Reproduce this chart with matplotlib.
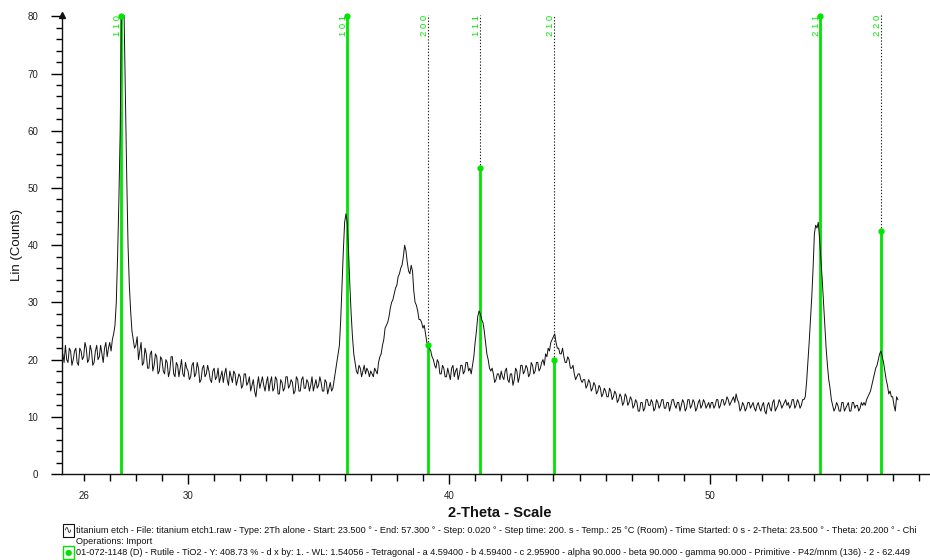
import numpy as np
import matplotlib
matplotlib.use("Agg")
import matplotlib.pyplot as plt

plt.rcParams['font.family'] = ['Liberation Sans', 'DejaVu Sans']

# ---------------- data ----------------
scan_step = 0.05       # step between listed points (2-theta)

# (segment start in 2-theta, counts at scan_step spacing)
segments = [
    (25.2, [21, 19.5, 22.5, 20, 19.5, 22, 21.5, 19, 20, 21.5, 22, 19.5, 19, 22, 21.5, 20]),
    (26.0, [20.5, 23, 22, 19.5, 20, 22.5, 21.5, 19, 19.5, 21.5,
            22.5, 20, 20.5, 22.5, 21, 19.5, 22, 23, 20.5, 22]),
    (27.0, [23, 21.5, 23.5, 24.5, 26, 30, 38, 48, 60, 82,
            83, 80, 66, 52, 40, 33, 28.5, 25, 23.5, 22]),
    (28.0, [22.5, 24, 20, 21.5, 23, 19, 19.5, 22, 21, 18.5,
            18.5, 21, 21.5, 18, 19, 21, 20.5, 17.5, 18, 20.5]),
    (29.0, [20, 18, 17.5, 20, 19.5, 17, 18, 20.5, 20.5, 17.5,
            17, 19.5, 19, 17, 18.5, 20, 17.5, 17, 19.5, 18.5]),
    (30.0, [18, 16.5, 17, 19, 19.5, 17, 17.5, 19.5, 18.5, 16,
            16.5, 18.5, 19, 17, 17.5, 19, 18, 16.5, 16, 18]),
    (31.0, [18.5, 16.5, 17, 18.5, 16, 17, 18, 16, 17.5, 18.5,
            16.5, 15.5, 18, 17, 16, 18, 17.5, 15.5, 16.5, 17.5]),
    (32.0, [17, 15, 15.5, 17.5, 17.5, 15.5, 16, 17, 14.5, 15.5,
            16.5, 14.5, 13.5, 15.5, 17, 15, 16, 17, 15.5, 14.5]),
    (33.0, [16, 17, 14.5, 16, 17, 14.5, 15, 17, 16.5, 14,
            14, 16.5, 16, 14.5, 15, 17, 17, 15, 15.5, 16.5]),
    (34.0, [16, 14, 14.5, 17, 16.5, 14.5, 14.5, 16.5, 17, 15,
            15, 16.5, 16, 14.5, 15.5, 17, 14.5, 15.5, 16.5, 15]),
    (35.0, [15.5, 17, 16, 14.5, 14.5, 16.5, 16, 14, 15, 16,
            14.5, 15, 16.5, 18, 19.5, 21, 22.5, 27, 33, 39]),
    (36.0, [44, 45.5, 44, 39, 33, 28, 24, 21, 19.5, 18,
            17.5, 19, 18.5, 17, 18, 19, 17.5, 18.5, 18, 17]),
    (37.0, [18, 17.5, 17, 18.5, 18, 17.5, 19.5, 20.5, 21, 22.5,
            23.5, 25.5, 26, 26.5, 27.5, 29, 30, 30.5, 31.5, 32.5]),
    (38.0, [33, 34.5, 35, 36, 36.5, 38, 40, 39, 37, 35.5,
            35, 36.5, 35.5, 32, 30, 29.5, 28.5, 27, 27, 26.5]),
    (39.0, [25.5, 26, 24.5, 23, 22.5, 22, 21.5, 20.5, 20, 19,
            18.5, 20, 19.5, 17.5, 17.5, 19, 18.5, 17, 17, 18.5]),
    (40.0, [17.5, 16.5, 18.5, 19, 17, 18, 18.5, 16.5, 17.5, 19,
            19, 17.5, 18, 19.5, 19.5, 18, 18.5, 17.5, 19, 20.5]),
    (41.0, [23, 25, 27.5, 28.5, 28, 27, 26.5, 25, 23, 21,
            20, 18.5, 18, 18.5, 17.5, 16, 16.5, 17.5, 17.5, 16.5]),
    (42.0, [18, 17, 16.5, 18, 18.5, 16.5, 16, 17.5, 17.5, 15.5,
            16.5, 18.5, 18, 16, 17, 19, 19, 17.5, 18, 19]),
    (43.0, [18.5, 17, 17.5, 19.5, 19, 17.5, 18, 19.5, 19.5, 18,
            18.5, 19.5, 20, 19, 21, 20.5, 22, 21.5, 23, 23.5]),
    (44.0, [24, 24.5, 23, 22, 22, 21, 21, 22, 20.5, 19.5,
            19.5, 20.5, 20, 18.5, 18.5, 19, 17.5, 16.5, 17, 17.5]),
    (45.0, [17.5, 16.5, 16, 16.5, 16.5, 15, 15.5, 16.5, 16, 14.5,
            15, 16, 15.5, 14, 14.5, 15.5, 15, 13.5, 14, 15]),
    (46.0, [14.5, 13.5, 13.5, 15, 14.5, 13, 13.5, 14.5, 14, 12.5,
            13, 14, 13.5, 12, 12.5, 14, 13.5, 12, 12.5, 13.5]),
    (47.0, [13, 11.5, 12, 13, 12.5, 11, 11, 12.5, 12.5, 11,
            11.5, 13, 13, 12, 12, 13, 12.5, 11, 11.5, 13]),
    (48.0, [12.5, 11.5, 12, 13, 13, 11.5, 11.5, 12.5, 12.5, 11,
            12, 13, 13, 12, 11.5, 12.5, 12.5, 11, 12, 13]),
    (49.0, [12.5, 11, 11.5, 13, 13, 11.5, 12, 13, 12.5, 11,
            11.5, 12.5, 13, 11.5, 12, 13, 12.5, 11.5, 12, 12.5]),
    (50.0, [11.5, 12.5, 12.5, 11.5, 12, 13, 13, 11.5, 12, 13,
            13, 12, 12.5, 13.5, 13, 12, 12.5, 13, 13.5, 12.5]),
    (51.0, [14, 13, 12.5, 11, 11.5, 12.5, 12, 11, 11.5, 12.5,
            12.5, 11.5, 12, 12.5, 11.5, 11, 12, 12.5, 11.5, 11]),
    (52.0, [12, 12.5, 11, 10.5, 12, 12.5, 11.5, 11, 12.5, 13,
            11, 11.5, 12, 13, 12.5, 11.5, 12, 12.5, 13, 12]),
    (53.0, [12.5, 11.5, 12, 13, 13, 11.5, 12, 13, 12.5, 11.5,
            12, 13, 13, 13.5, 16, 19.5, 23, 27, 31, 36]),
    (54.0, [42, 43.5, 43, 44, 41, 37.5, 34, 30, 26, 22,
            19, 16.5, 15, 13, 12, 11, 11.5, 12.5, 12, 11]),
    (55.0, [11, 12.5, 12.5, 11, 11.5, 12, 12.5, 11, 11, 12.5,
            12.5, 11.5, 12, 12, 11, 11.5, 12.5, 12, 12.5, 12]),
    (56.0, [13, 13.5, 14, 14.5, 15.5, 16.5, 17.5, 18.5, 19, 20,
            21, 21.5, 20.5, 19.5, 18, 16.5, 15.5, 14, 14.5, 13.5]),
    (57.0, [13.5, 12, 11, 13.5, 13]),
]

# Rutile reference sticks (position, displayed height, hkl)
stick_pos = [27.43, 36.09, 39.19, 41.20, 44.02, 54.23, 56.55]
stick_height = [80, 80, 22.5, 53.5, 20, 80, 42.5]
stick_hkl = ["1 1 0", "1 0 1", "2 0 0", "1 1 1", "2 1 0", "2 1 1", "2 2 0"]

x_tick_values = [26, 30, 40, 50]
x_tick_labels = ["26", "30", "40", "50"]
y_tick_values = [0, 10, 20, 30, 40, 50, 60, 70, 80]

legend_line1 = ("titanium etch - File: titanium etch1.raw - Type: 2Th alone - Start: 23.500 \u00b0 - "
                "End: 57.300 \u00b0 - Step: 0.020 \u00b0 - Step time: 200. s - Temp.: 25 \u00b0C (Room) - "
                "Time Started: 0 s - 2-Theta: 23.500 \u00b0 - Theta: 20.200 \u00b0 - Chi")
legend_line2 = "Operations: Import"
legend_line3 = ("01-072-1148 (D) - Rutile - TiO2 - Y: 408.73 % - d x by: 1. - WL: 1.54056 - "
                "Tetragonal - a 4.59400 - b 4.59400 - c 2.95900 - alpha 90.000 - beta 90.000 - "
                "gamma 90.000 - Primitive - P42/mnm (136) - 2 - 62.449")

# ---------------- figure ----------------
W, H = 930, 560
fig = plt.figure(figsize=(W / 100, H / 100), dpi=100)
ax = fig.add_axes([62 / W, 1 - 474 / H, 868 / W, (474 - 14.7) / H])

two_theta = np.concatenate([s + scan_step * np.arange(len(v)) for s, v in segments])
counts = np.concatenate([np.asarray(v, float) for s, v in segments])

YTOP = 80.3
GREEN = "#00E400"

# sticks
for pos, h, hkl in zip(stick_pos, stick_height, stick_hkl):
    top = min(h, YTOP)
    ax.vlines(pos, 0, top, color=GREEN, lw=2.0, zorder=2)
    if h < YTOP - 1:
        ax.vlines(pos, top, YTOP, color="#222222", lw=0.8,
                  linestyles=(0, (1.2, 1.6)), zorder=2)
    ax.plot([pos], [top], marker="o", ms=3.5, color=GREEN, clip_on=False, zorder=4)
    ax.annotate(hkl, xy=(pos, YTOP), xytext=(0.7, -0.3), textcoords="offset points",
                rotation=90, ha="right", va="top", fontsize=6.8, color=GREEN, zorder=5)

# measured pattern
ax.plot(two_theta, counts, color="#111111", lw=0.7, zorder=3)

ax.set_xlim(25.17, 58.43)
ax.set_ylim(0, YTOP)

for s in ("top", "right"):
    ax.spines[s].set_visible(False)
for s in ("left", "bottom"):
    ax.spines[s].set_linewidth(1.0)
    ax.spines[s].set_color("#111111")

ax.set_xticks(x_tick_values, x_tick_labels)
ax.set_xticks(np.arange(26, 59, 1), minor=True)
ax.set_yticks(y_tick_values)
ax.set_yticks(np.arange(0, 81, 2), minor=True)

ax.tick_params(axis="x", which="major", direction="out", length=7, width=1,
               labelsize=7, pad=5, labelcolor="#222222")
ax.tick_params(axis="x", which="minor", direction="out", length=5, width=1)
ax.tick_params(axis="y", which="major", direction="out", length=8, width=1,
               labelsize=7, pad=9, labelcolor="#222222")
ax.tick_params(axis="y", which="minor", direction="out", length=4, width=1)
ax.xaxis.get_major_ticks()[0].tick1line.set_markersize(5)

# arrow at top of y axis
ax.plot([25.17], [YTOP], marker="^", ms=4, color="#111111", clip_on=False, zorder=6)

fig.text(17 / W, 1 - 245 / H, "Lin (Counts)", rotation=90, ha="center", va="center",
         fontsize=9.5, color="#111111")
fig.text(500 / W, 1 - 513 / H, "2-Theta - Scale", ha="center", va="center",
         fontsize=10.5, fontweight="bold", color="#111111")

# bottom information lines
fig.text(68.5 / W, 1 - 530.5 / H, "\u223f", ha="center", va="center", fontsize=7,
         family="DejaVu Sans", color="#111111",
         bbox=dict(boxstyle="square,pad=0.15", fc="white", ec="#111111", lw=0.8))
fig.text(76 / W, 1 - 530.5 / H, legend_line1, ha="left", va="center", fontsize=6.6,
         color="#111111")
fig.text(76 / W, 1 - 541.5 / H, legend_line2, ha="left", va="center", fontsize=6.6,
         color="#111111")
fig.text(68.5 / W, 1 - 552.5 / H, "\u25cf", ha="center", va="center", fontsize=6,
         family="DejaVu Sans", color=GREEN,
         bbox=dict(boxstyle="square,pad=0.2", fc="white", ec=GREEN, lw=1.0))
fig.text(76 / W, 1 - 552.5 / H, legend_line3, ha="left", va="center", fontsize=6.6,
         color="#111111")

fig.savefig("out.png", dpi=100, facecolor="white")
